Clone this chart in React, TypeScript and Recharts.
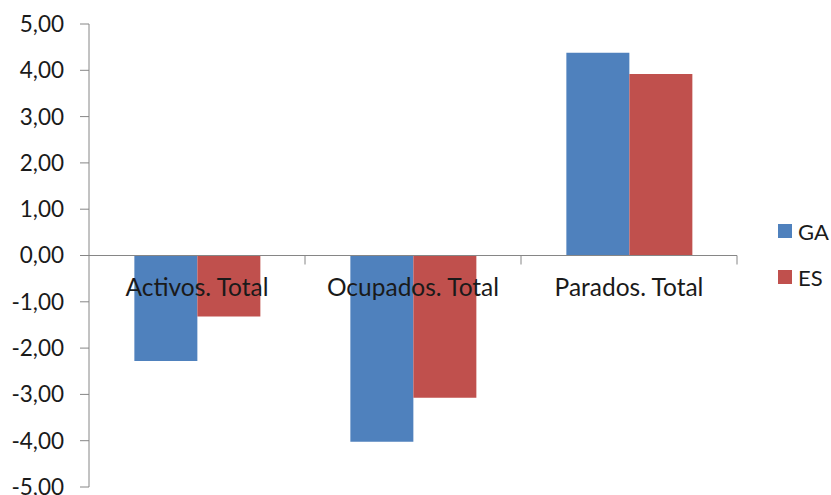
import { BarChart, Bar, XAxis, YAxis, ReferenceLine } from 'recharts'

const categories = ['Activos. Total', 'Ocupados. Total', 'Parados. Total']
const gaValues = [-2.28, -4.02, 4.38]
const esValues = [-1.32, -3.07, 3.92]
const yTicks = [-5, -4, -3, -2, -1, 0, 1, 2, 3, 4, 5]

const data = categories.map((name, i) => ({ name, GA: gaValues[i], ES: esValues[i] }))

const W = 831
const H = 495
const PLOT_LEFT = 89
const PLOT_RIGHT = 737
const PLOT_TOP = 24
const PLOT_BOTTOM = 487
const Y_MIN = -5
const Y_MAX = 5
const FONT = 'Lato, "Open Sans", sans-serif'
const AXIS = '#868686'
const BLUE = '#4F81BD'
const RED = '#C0504D'

const zeroY = PLOT_TOP + (Y_MAX / (Y_MAX - Y_MIN)) * (PLOT_BOTTOM - PLOT_TOP)
const band = (PLOT_RIGHT - PLOT_LEFT) / categories.length

function CategoryTick(props: any) {
  const { x, payload } = props
  return (
    <g>
      <line x1={x + band / 2} y1={zeroY} x2={x + band / 2} y2={zeroY + 9} stroke={AXIS} />
      <text x={x} y={zeroY + 40} textAnchor="middle" fontSize={24.5} fontFamily={FONT} fill="#1a1a1a">
        {payload.value}
      </text>
    </g>
  )
}

function Legend() {
  const items = [
    { label: 'GA', color: BLUE },
    { label: 'ES', color: RED },
  ]
  return (
    <div style={{ position: 'absolute', left: 778, top: 208, fontFamily: FONT, fontSize: 22, color: '#1a1a1a' }}>
      {items.map(it => (
        <div key={it.label} style={{ display: 'flex', alignItems: 'center', height: 46 }}>
          <span style={{ width: 14, height: 14, background: it.color, display: 'inline-block', marginRight: 6 }} />
          <span>{it.label}</span>
        </div>
      ))}
    </div>
  )
}

export default function App() {
  return (
    <div style={{ position: 'absolute', left: 0, top: 0, width: W, height: H, background: '#fff', overflow: 'hidden' }}>
      <BarChart
        width={W}
        height={H + 10}
        data={data}
        margin={{ top: PLOT_TOP, right: W - PLOT_RIGHT, bottom: 0, left: 9 }}
        barGap={0}
        barCategoryGap="21%"
      >
        <YAxis
          width={80}
          domain={[Y_MIN, Y_MAX]}
          ticks={yTicks}
          interval={0}
          tickFormatter={(v: number) => v.toFixed(2).replace('.', ',')}
          tick={{ fontSize: 22.5, fontFamily: FONT, fill: '#1a1a1a' }}
          tickSize={9}
          tickMargin={16}
          stroke={AXIS}
          allowDataOverflow
        />
        <XAxis
          dataKey="name"
          height={H + 10 - PLOT_BOTTOM}
          axisLine={false}
          tickLine={false}
          interval={0}
          tick={CategoryTick}
        />
        <Bar dataKey="GA" fill={BLUE} isAnimationActive={false} />
        <Bar dataKey="ES" fill={RED} isAnimationActive={false} />
        <ReferenceLine y={0} stroke={AXIS} />
      </BarChart>
      <Legend />
    </div>
  )
}
